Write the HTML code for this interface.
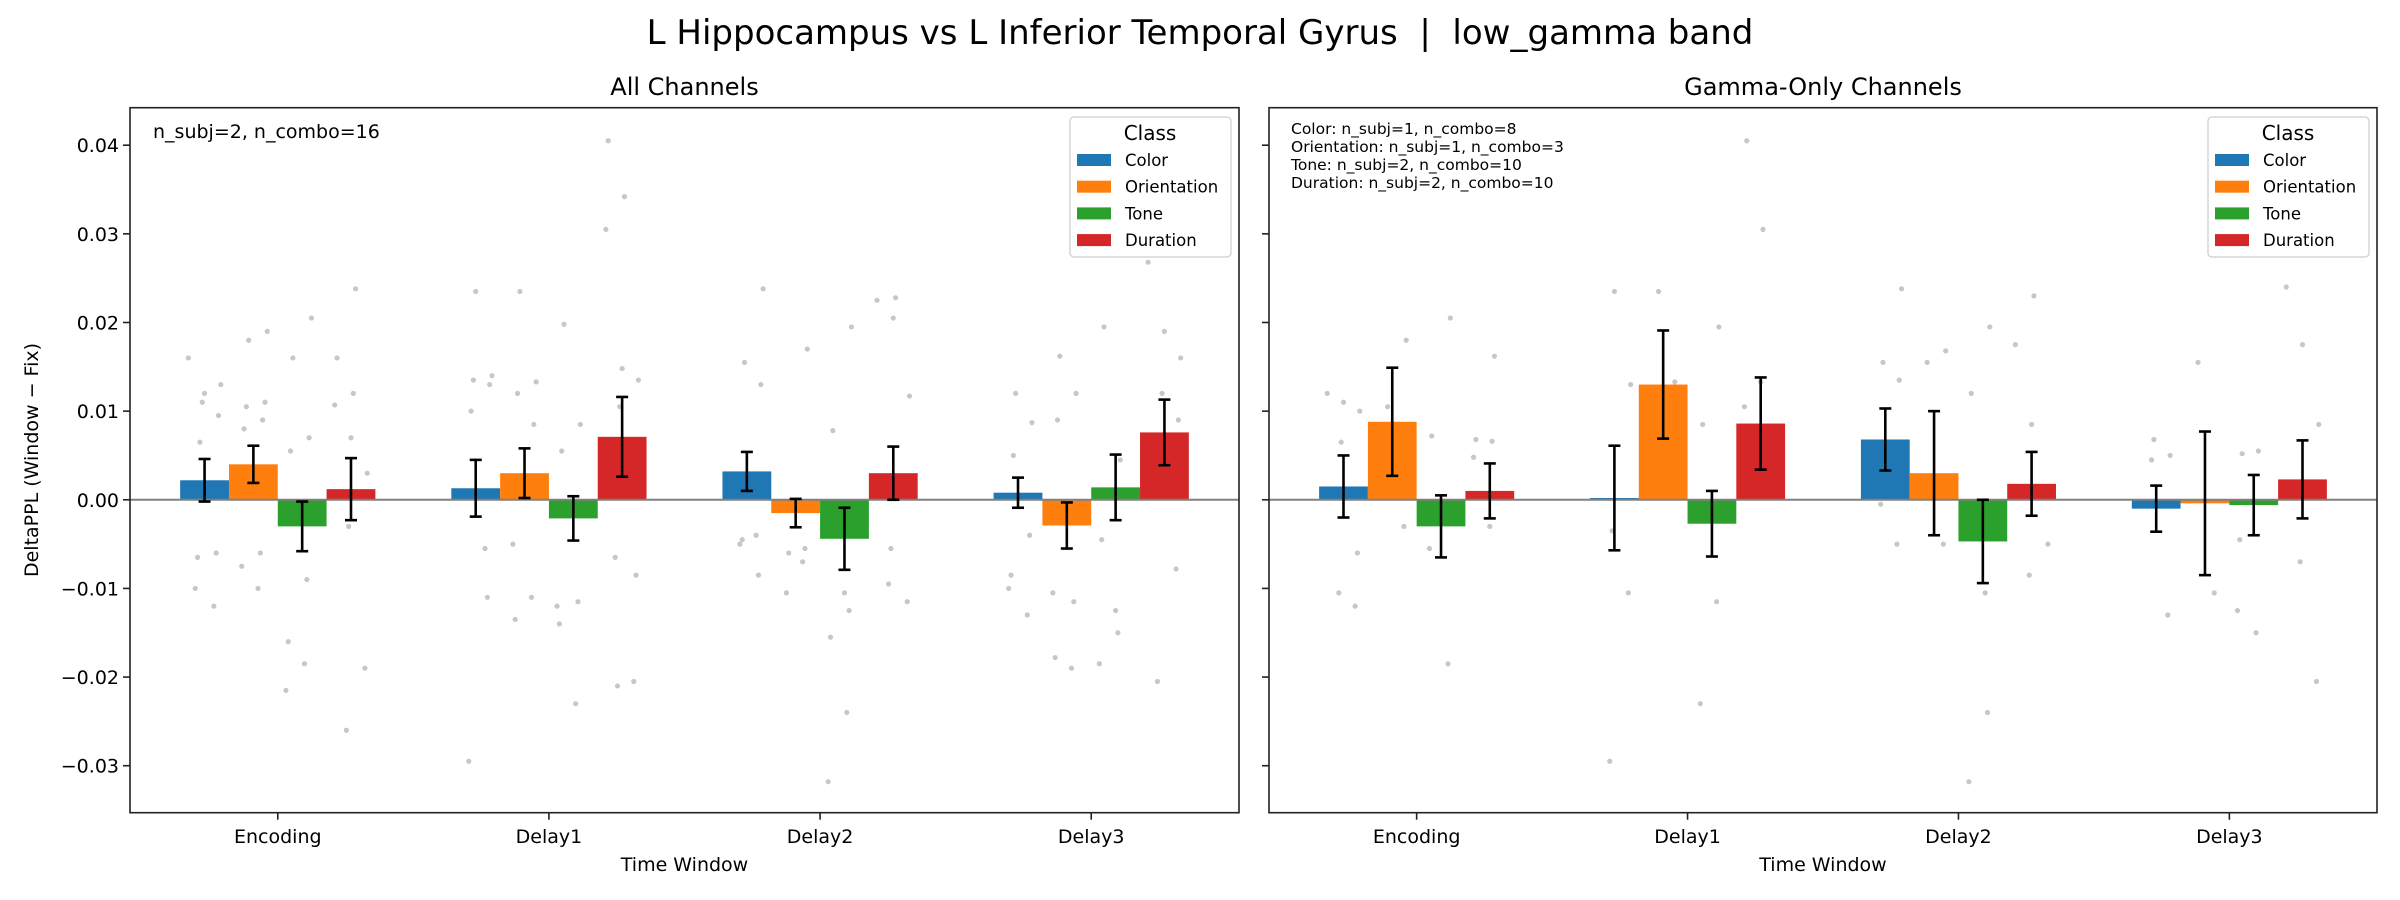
<!DOCTYPE html>
<html><head><meta charset="utf-8">
<style>
html,body{margin:0;padding:0;background:#fff;}
svg{display:block;font-family:"DejaVu Sans","Liberation Sans",sans-serif;}
</style></head>
<body>
<svg id="fig" width="2400" height="900" viewBox="0 0 2400 900" xmlns="http://www.w3.org/2000/svg">
<rect width="2400" height="900" fill="#fff"/>
<text x="1200" y="44" text-anchor="middle" font-size="34" fill="#000" xml:space="preserve" style="white-space:pre">L Hippocampus vs L Inferior Temporal Gyrus  |  low_gamma band</text>
<text transform="translate(38,460) rotate(-90)" text-anchor="middle" font-size="19" fill="#000">DeltaPPL (Window − Fix)</text>
</svg>
<script>
const categories = ["Encoding","Delay1","Delay2","Delay3"];
const classes = ["Color","Orientation","Tone","Duration"];
const yTicks = [-0.03,-0.02,-0.01,0.00,0.01,0.02,0.03,0.04];
const yTickLabels = ["−0.03","−0.02","−0.01","0.00","0.01","0.02","0.03","0.04"];

// All Channels
const allColor = [0.0022,0.0013,0.0032,0.0008];
const allOrientation = [0.0040,0.0030,-0.0015,-0.0029];
const allTone = [-0.0030,-0.0021,-0.0044,0.0014];
const allDuration = [0.0012,0.0071,0.0030,0.0076];
const allColorErr = [0.0024,0.0032,0.0022,0.0017];
const allOrientationErr = [0.0021,0.0028,0.0016,0.0026];
const allToneErr = [0.0028,0.0025,0.0035,0.0037];
const allDurationErr = [0.0035,0.0045,0.0030,0.0037];

// Gamma-Only Channels
const gamColor = [0.0015,0.0002,0.0068,-0.0010];
const gamOrientation = [0.0088,0.0130,0.0030,-0.0004];
const gamTone = [-0.0030,-0.0027,-0.0047,-0.0006];
const gamDuration = [0.0010,0.0086,0.0018,0.0023];
const gamColorErr = [0.0035,0.0059,0.0035,0.0026];
const gamOrientationErr = [0.0061,0.0061,0.0070,0.0081];
const gamToneErr = [0.0035,0.0037,0.0047,0.0034];
const gamDurationErr = [0.0031,0.0052,0.0036,0.0044];

// individual points [category][class] -> values
const allDots = [
 [[0.016,0.012,0.013,0.011,0.0095,0.0065,-0.006,-0.0065,-0.012,-0.010],[0.019,0.018,0.011,0.0105,0.009,0.008,-0.006,-0.0075,-0.010],[0.0205,0.016,0.007,0.0055,-0.009,-0.016,-0.0185,-0.0215],[0.0238,0.016,0.012,0.0107,0.007,0.003,-0.003,-0.019,-0.026]],
 [[0.0235,0.014,0.0135,0.013,0.010,-0.011,-0.0295,-0.0055],[0.0235,0.0133,0.012,0.0085,-0.0135,-0.011,-0.005],[0.0198,0.0085,0.0055,-0.0115,-0.014,-0.023,-0.012],[0.0405,0.0342,0.0305,0.0148,0.0135,0.0105,-0.0085,-0.021,-0.0205,-0.0065]],
 [[0.0238,0.0155,0.013,-0.0045,-0.0085,-0.005,-0.004],[0.017,-0.006,-0.0055,-0.0105,-0.007],[0.0195,0.0078,-0.0125,-0.0155,-0.024,-0.0318,-0.0105],[0.0228,0.0225,0.0205,0.0117,-0.0055,-0.0115,-0.0095]],
 [[0.012,0.0087,0.005,-0.004,-0.0085,-0.013,-0.010],[0.0162,0.012,0.009,-0.0115,-0.0178,-0.019,-0.0105],[0.0195,0.0045,-0.0045,-0.015,-0.0185,-0.0125],[0.0268,0.019,0.016,0.012,0.009,0.004,-0.0078,-0.0205]]
];
const gamDots = [
 [[0.012,0.011,0.010,0.0065,-0.006,-0.0105,-0.012],[0.018,0.0105,-0.003],[0.0205,0.0072,-0.0185,-0.0055],[0.0162,0.0068,0.0066,0.0048,-0.003]],
 [[0.0235,0.013,-0.0035,-0.0105,-0.0295],[0.0235,0.0133,0.003],[0.0085,0.0195,-0.023,-0.0115],[0.0405,0.0305,0.0105,0.0133]],
 [[0.0238,0.0155,0.0135,-0.0005,-0.005],[0.0168,0.0155,-0.005],[0.0195,0.012,-0.024,-0.0318,-0.0105],[0.023,0.0175,0.0085,-0.005,-0.0085]],
 [[0.0068,0.005,0.0045,-0.013],[0.0155,-0.0105],[0.0052,0.0055,-0.0045,-0.015,-0.0125],[0.024,0.0175,0.0085,-0.007,-0.0205]]
];

const colors = ["#1f77b4","#ff7f0e","#2ca02c","#d62728"];
const NS = "http://www.w3.org/2000/svg";
const svg = document.getElementById('fig');
function mk(tag, attrs, parent){const e=document.createElementNS(NS,tag);for(const k in attrs)e.setAttribute(k,attrs[k]);(parent||svg).appendChild(e);return e;}

const Y0=107.7, Y1=812.7, YMIN=-0.0353, YMAX=0.04423;
const yScale = v => Y1 - (v-YMIN)/(YMAX-YMIN)*(Y1-Y0);
const XMIN=-0.545, XMAX=3.545;

function panel(left,right,name,title,means,errs,dots,showYLabels){
  const g = mk('g',{});
  
  
  const xScale = x => left + (x-XMIN)/(XMAX-XMIN)*(right-left);
  const unit = (right-left)/(XMAX-XMIN);
  const t = mk('text',{x:(left+right)/2,y:95,'text-anchor':'middle','font-size':24,fill:'#000'},g);
  t.textContent = title;
  
  
  const offs=[-0.27,-0.09,0.09,0.27];
  for(let c=0;c<categories.length;c++){
    for(let k=0;k<4;k++){
      const arr=dots[c][k];
      for(let i=0;i<arr.length;i++){
        const jit=((i*37+k*13+c*7)%15-7)/7*0.06;
        const d=mk('circle',{cx:xScale(c+offs[k]+jit),cy:yScale(arr[i]),r:2.6,fill:'#999','fill-opacity':0.55},g);
        
        
      }
    }
  }
  for(let k=0;k<4;k++){
    for(let c=0;c<categories.length;c++){
      const v=means[k][c];
      const x=xScale(c+offs[k]-0.09);
      const y=Math.min(yScale(v),yScale(0));
      const h=Math.abs(yScale(v)-yScale(0));
      const b=mk('rect',{x:x,y:y,width:0.18*unit,height:h,fill:colors[k]},g);
      
      
    }
  }
  const zl=mk('line',{x1:left,x2:right,y1:yScale(0),y2:yScale(0),stroke:'#808080','stroke-width':2},g);
  
  
  for(let k=0;k<4;k++){
    for(let c=0;c<categories.length;c++){
      const cx=xScale(c+offs[k]); const v=means[k][c], e=errs[k][c];
      const eg=mk('g',{stroke:'#000','stroke-width':2.6},g);
      
      
      mk('line',{x1:cx,x2:cx,y1:yScale(v+e),y2:yScale(v-e)},eg);
      mk('line',{x1:cx-6,x2:cx+6,y1:yScale(v+e),y2:yScale(v+e)},eg);
      mk('line',{x1:cx-6,x2:cx+6,y1:yScale(v-e),y2:yScale(v-e)},eg);
    }
  }
  const fr=mk('rect',{x:left,y:Y0,width:right-left,height:Y1-Y0,fill:'none',stroke:'#222','stroke-width':1.6},g);
  
  
  for(let i=0;i<yTicks.length;i++){
    const y=yScale(yTicks[i]);
    mk('line',{x1:left-7,x2:left,y1:y,y2:y,stroke:'#222','stroke-width':1.6},g);
    if(showYLabels){
      const tl=mk('text',{x:left-11,y:y+7,'text-anchor':'end','font-size':19,fill:'#000'},g);
      tl.textContent=yTickLabels[i];
      
      
    }
  }
  for(let c=0;c<categories.length;c++){
    const x=xScale(c);
    mk('line',{x1:x,x2:x,y1:Y1,y2:Y1+7,stroke:'#222','stroke-width':1.6},g);
    const tl=mk('text',{x:x,y:843,'text-anchor':'middle','font-size':19,fill:'#000'},g);
    tl.textContent=categories[c];
    
    
  }
  const xl=mk('text',{x:(left+right)/2,y:871,'text-anchor':'middle','font-size':19,fill:'#000'},g);
  xl.textContent='Time Window';
  
  
  const lx=right-169, ly=117;
  const lg=mk('g',{},g);
  
  
  mk('rect',{x:lx,y:ly,width:161,height:140,rx:4,fill:'#fff','fill-opacity':0.85,stroke:'#d6d6d6','stroke-width':1.5},lg);
  const lt=mk('text',{x:lx+80,y:ly+23,'text-anchor':'middle','font-size':20,fill:'#000'},lg);
  lt.textContent='Class';
  for(let k=0;k<4;k++){
    const ey=ly+43+k*26.7;
    const sw=mk('rect',{x:lx+7,y:ey-6,width:34,height:12,fill:colors[k]},lg);
    
    
    const et=mk('text',{x:lx+55,y:ey+6,'font-size':16.5,fill:'#000'},lg);
    et.textContent=classes[k];
    
    
  }
  return g;
}

panel(130,1239,'all-channels-panel','All Channels',
  [allColor,allOrientation,allTone,allDuration],
  [allColorErr,allOrientationErr,allToneErr,allDurationErr],allDots,true);
panel(1269,2377,'gamma-only-panel','Gamma-Only Channels',
  [gamColor,gamOrientation,gamTone,gamDuration],
  [gamColorErr,gamOrientationErr,gamToneErr,gamDurationErr],gamDots,false);

const a1=mk('text',{x:153,y:138,'font-size':19,fill:'#000'});
a1.textContent='n_subj=2, n_combo=16';


const ann=["Color: n_subj=1, n_combo=8","Orientation: n_subj=1, n_combo=3","Tone: n_subj=2, n_combo=10","Duration: n_subj=2, n_combo=10"];
for(let i=0;i<ann.length;i++){
  const t=mk('text',{x:1291,y:134+i*18,'font-size':15.5,fill:'#000'});
  t.textContent=ann[i];
  
  
}
</script>
</body></html>
